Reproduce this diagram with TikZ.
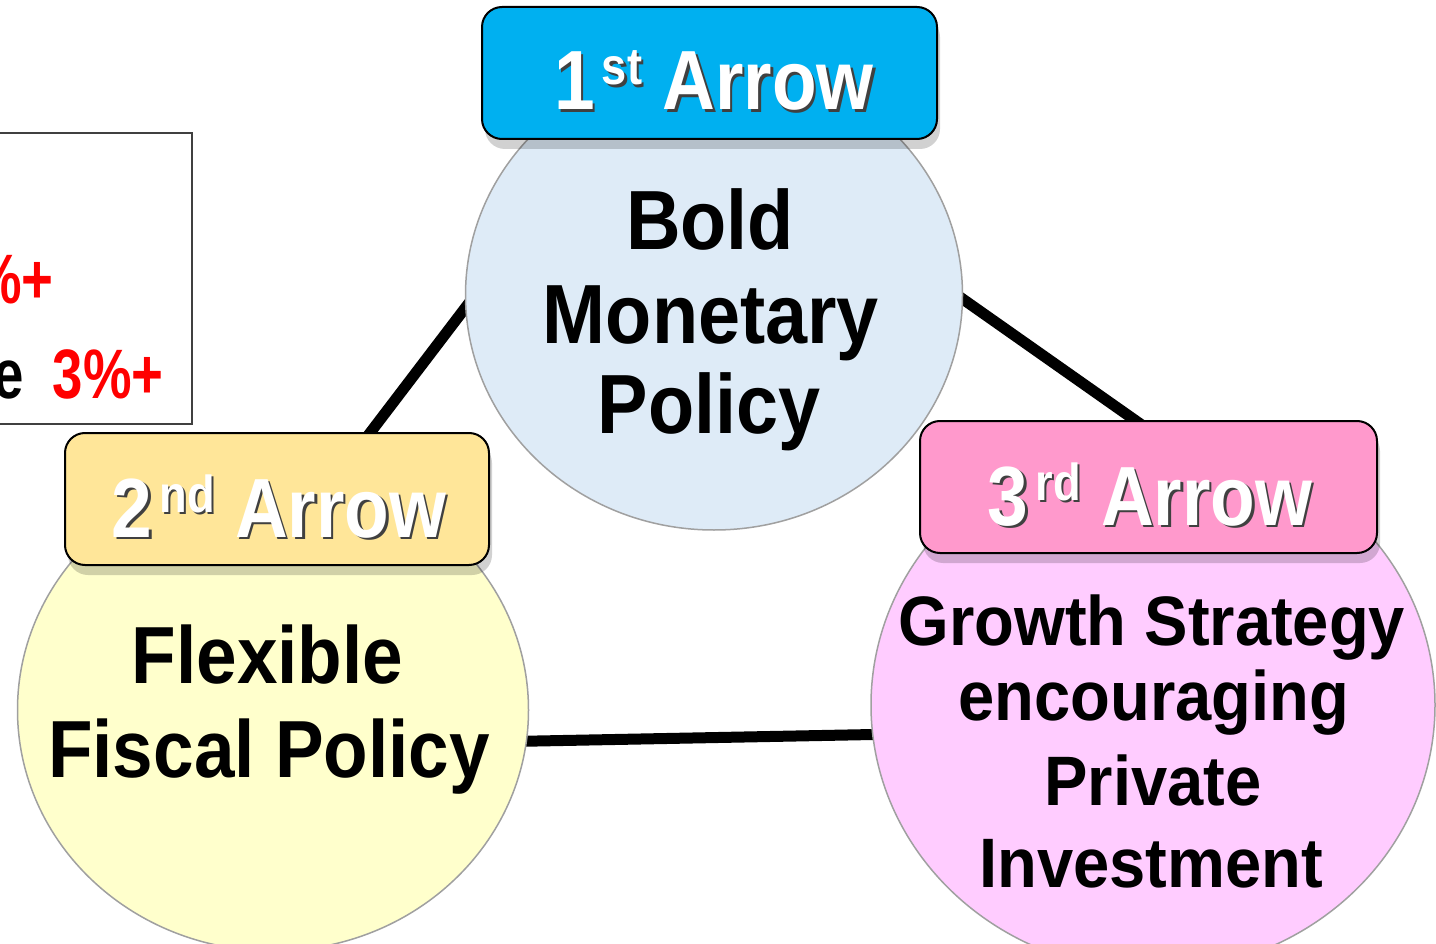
\documentclass[tikz,border=0pt]{standalone}
\usepackage{fontspec}
\setmainfont{Liberation Sans}
\newfontfamily\labfont[FakeStretch=0.87]{Liberation Sans}
\newfontfamily\circfont[FakeStretch=0.9]{Liberation Sans}
\newfontfamily\growfont[FakeStretch=0.93]{Liberation Sans}
\newfontfamily\tgtfont[FakeStretch=0.78]{Liberation Sans}
\usetikzlibrary{shapes.geometric,shadows,calc,backgrounds}

\definecolor{arrowblue}{HTML}{00B0F0}
\definecolor{arrowgold}{HTML}{FFE699}
\definecolor{arrowpink}{HTML}{FF99CC}
\definecolor{discblue}{HTML}{DEEBF7}
\definecolor{discyellow}{HTML}{FFFFCC}
\definecolor{discpink}{HTML}{FFCCFF}
\definecolor{rimgray}{HTML}{A0A0A0}

% white lettering with a dark offset shadow
\newcommand\shadowed[1]{\makebox[0pt][l]{\kern2.5pt\raisebox{-2.5pt}{\color{black!75}#1}}{\color{white}#1}}
\newcommand\arrowlabel[2]{\shadowed{\fontsize{84}{84}\selectfont #1\kern7pt\raisebox{25pt}{\fontsize{52}{52}\selectfont #2} Arrow}}

\tikzset{
  disc/.style={ellipse, draw=rimgray, line width=1.5pt, inner sep=0pt},
  tag/.style={rectangle, rounded corners=20pt, draw=black, line width=2pt, inner sep=0pt,
    minimum height=132pt,
    drop shadow={shadow xshift=3pt, shadow yshift=-10pt, opacity=0.18, fill=black}},
  tagtext/.style={anchor=base, inner sep=0pt, font=\labfont\bfseries},
  disctext/.style={anchor=base, inner sep=0pt, font={\circfont\bfseries\fontsize{84}{84}\selectfont}},
  disctextb/.style={anchor=base, inner sep=0pt, font={\circfont\bfseries\fontsize{81}{81}\selectfont}},
  disctextc/.style={anchor=base, inner sep=0pt, font={\growfont\bfseries\fontsize{70}{70}\selectfont}},
  tgttext/.style={anchor=base east, inner sep=0pt, text=red, font={\tgtfont\bfseries\fontsize{70}{70}\selectfont}},
  link/.style={draw=black, line width=11pt, shorten <=-20pt, shorten >=-20pt}
}

\begin{document}
\begin{tikzpicture}[x=1pt,y=-1pt]
\useasboundingbox (0,0) rectangle (1436,944);
\clip (0,0) rectangle (1436,944);

% target box on the left
\node[draw=black!75, line width=2pt, fill=white, minimum width=220pt, minimum height=291pt, inner sep=0pt] (tgt) at (82,278.5) {};
\node[tgttext] (g1) at (54,304) {\%+};
\node[tgttext] (g2) at (164,398) {\textcolor{black}{e}\hspace{29pt}3\%+};

% the three policy discs
\node[disc, fill=discblue, minimum width=497pt, minimum height=470pt] (c1) at (714,295) {};
\node[disc, fill=discyellow, minimum width=511pt, minimum height=482pt] (c2) at (273,710) {};
\node[disc, fill=discpink, minimum width=564pt, minimum height=532pt] (c3) at (1153,705) {};

% arrow tags
\node[tag, fill=arrowblue, minimum width=455pt] (b1) at (709.5,73) {};
\node[tag, fill=arrowgold, minimum width=424pt] (b2) at (277,499) {};
\node[tag, fill=arrowpink, minimum width=457pt] (b3) at (1148.5,487) {};

\node[tagtext] (l1) at (714,110) {\arrowlabel{1}{st}};
\node[tagtext] (l2) at (279,537) {\arrowlabel{2}{nd}};
\node[tagtext] (l3) at (1150,525) {\arrowlabel{3}{rd}};

% disc captions
\node[disctext] (t1a) at (710,250) {Bold};
\node[disctext] (t1b) at (711,343) {Monetary};
\node[disctext] (t1c) at (709,433) {Policy};

\node[disctextb] (t2a) at (267.5,683) {Flexible};
\node[disctextb] (t2b) at (269,777) {Fiscal Policy};

\node[disctextc] (t3a) at (1152,645) {Growth Strategy};
\node[disctextc] (t3b) at (1154,720) {encouraging};
\node[disctextc] (t3c) at (1153,805) {Private};
\node[disctextc] (t3d) at (1151,887) {Investment};

% white ground and connecting bars, behind everything
\begin{pgfonlayer}{background}
\fill[white] (0,0) rectangle (1436,944);
\draw[link] (c1.183) -- ($(b2.north west)!0.72!(b2.north east)$);
\draw[link] (c1.-1) -- ($(b3.north west)!0.47!(b3.north east)$);
\draw[link] (c2.-7) -- (c3.186.5);
\end{pgfonlayer}
\end{tikzpicture}
\end{document}
